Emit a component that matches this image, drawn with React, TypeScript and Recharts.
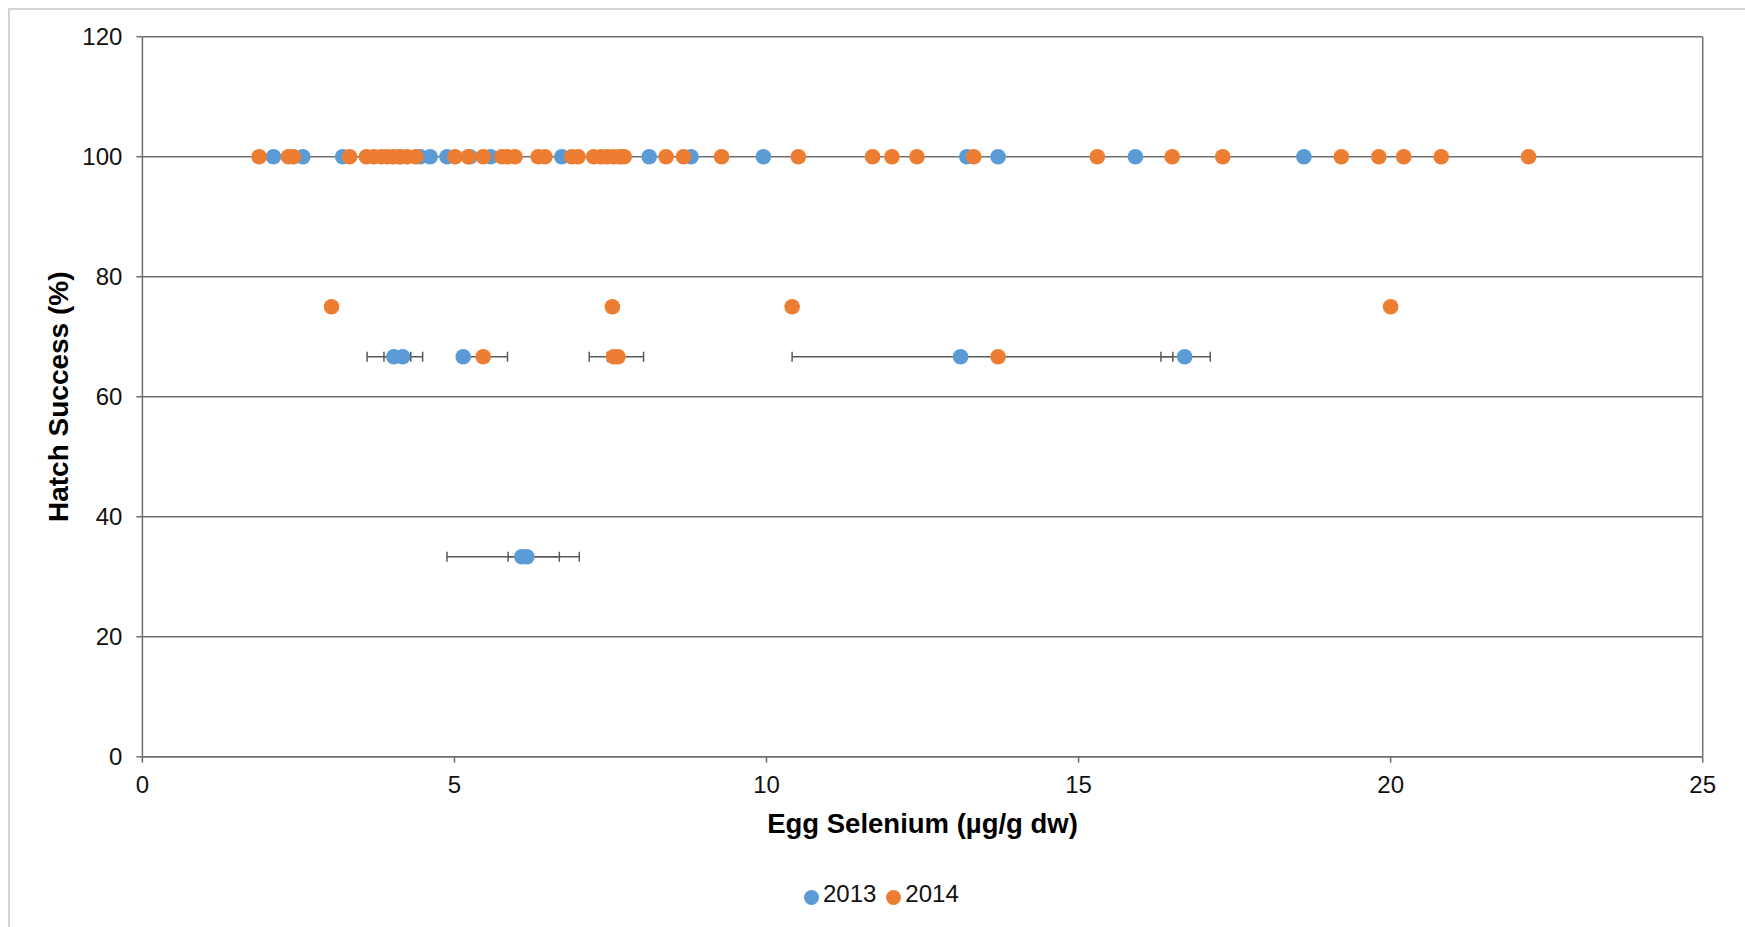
import React from 'react';
import {
  ScatterChart,
  Scatter,
  XAxis,
  YAxis,
  CartesianGrid,
  ErrorBar,
  Legend,
  ReferenceLine,
  Label,
} from 'recharts';

// Egg selenium (µg/g dw) per nest, grouped by hatch success row
const se2013At100 = [2.1, 2.57, 3.21, 4.13, 4.45, 4.61, 4.88, 5.25, 5.58, 6.72, 8.12, 8.79, 9.95, 13.21, 13.71, 15.91, 18.61];
const se2014At100 = [
  1.87, 2.34, 2.42, 3.32, 3.59, 3.71, 3.83, 3.92, 4.02, 4.12, 4.24, 4.38, 5.01, 5.22, 5.46, 5.76, 5.85, 5.97,
  6.34, 6.45, 6.88, 6.98, 7.23, 7.35, 7.45, 7.55, 7.65, 7.72, 8.39, 8.67, 9.28, 10.51, 11.7, 12.01, 12.41,
  13.32, 15.3, 16.5, 17.31, 19.21, 19.81, 20.21, 20.81, 22.21,
];
const se2014At75 = [3.03, 7.53, 10.41, 20.0];

const se2013At67 = [4.03, 4.17, 5.14, 13.11, 16.7];
const err2013At67: ([number, number] | null)[] = [[0.43, 0.46], [0.3, 0.13], null, null, [0.38, 0.41]];
const se2014At67 = [5.46, 7.55, 7.62, 13.71];
const err2014At67: ([number, number] | null)[] = [[0.39, 0.39], [0.39, 0.48], [0.17, 0.07], [3.3, 2.8]];

const se2013At33 = [6.08, 6.16];
const err2013At33: [number, number][] = [[1.2, 0.92], [0.3, 0.52]];

const xTicks = [0, 5, 10, 15, 20, 25];
const yTicks = [0, 20, 40, 60, 80, 100, 120];

type Pt = { x: number; y: number; err?: [number, number] | null };

const data2013: Pt[] = [
  ...se2013At100.map((x) => ({ x, y: 100 })),
  ...se2013At67.map((x, i) => ({ x, y: 66.67, err: err2013At67[i] })),
  ...se2013At33.map((x, i) => ({ x, y: 33.33, err: err2013At33[i] })),
];
const data2014: Pt[] = [
  ...se2014At100.map((x) => ({ x, y: 100 })),
  ...se2014At75.map((x) => ({ x, y: 75 })),
  ...se2014At67.map((x, i) => ({ x, y: 66.67, err: err2014At67[i] })),
];

const BLUE = '#5B9BD5';
const ORANGE = '#ED7D31';
const GRID = '#6f6f6f';
const FONT = '"Liberation Sans", Arial, sans-serif';

const dot = (color: string) => (props: any) => (
  <circle cx={props.cx} cy={props.cy} r={7.8} fill={color} />
);

export default function App() {
  return (
    <div style={{ position: 'absolute', left: 8, top: 8, width: 1737, height: 919, overflow: 'hidden' }}>
      <div style={{ width: 1800, height: 960, border: '2px solid #d4d4d4', fontFamily: FONT }}>
        <ScatterChart width={1736} height={910} margin={{ top: 26.7, right: 43.3, left: 0, bottom: 6 }}>
          <CartesianGrid horizontal vertical={false} stroke={GRID} strokeWidth={1.5} />
          <ReferenceLine x={25} stroke={GRID} strokeWidth={1.5} />
          <XAxis
            type="number"
            dataKey="x"
            domain={[0, 25]}
            ticks={xTicks}
            allowDataOverflow
            height={117.2}
            stroke={GRID}
            strokeWidth={1.5}
            tickSize={6}
            tickMargin={13}
            tick={{ fill: '#111', fontSize: 24, fontFamily: FONT }}
          >
            <Label
              content={(p: any) => {
                const vb = p.viewBox;
                return (
                  <text
                    x={vb.x + vb.width / 2}
                    y={vb.y + 76}
                    textAnchor="middle"
                    fontFamily={FONT}
                    fontWeight="bold"
                    fontSize={27.5}
                    fill="#000"
                  >
                    Egg Selenium (µg/g dw)
                  </text>
                );
              }}
            />
          </XAxis>
          <YAxis
            type="number"
            dataKey="y"
            domain={[0, 120]}
            ticks={yTicks}
            width={132.4}
            stroke={GRID}
            strokeWidth={1.5}
            tickSize={6}
            tickMargin={14}
            tick={{ fill: '#111', fontSize: 24, fontFamily: FONT }}
          >
            <Label
              content={(p: any) => {
                const vb = p.viewBox;
                const cy = vb.y + vb.height / 2;
                return (
                  <text
                    x={48}
                    y={cy}
                    transform={`rotate(-90, 48, ${cy})`}
                    textAnchor="middle"
                    dominantBaseline="central"
                    fontFamily={FONT}
                    fontWeight="bold"
                    fontSize={28}
                    fill="#000"
                  >
                    Hatch Success (%)
                  </text>
                );
              }}
            />
          </YAxis>
          <Legend
            verticalAlign="bottom"
            align="center"
            height={40}
            iconType="circle"
            iconSize={15}
            wrapperStyle={{ left: 30, bottom: 0 }}
            formatter={(value: string) => (
              <span style={{ color: '#111', fontSize: 24, fontFamily: FONT }}>{value}</span>
            )}
          />
          <Scatter name="2013" data={data2013} fill={BLUE} shape={dot(BLUE)} isAnimationActive={false}>
            <ErrorBar dataKey="err" direction="x" width={5} stroke="#595959" strokeWidth={1.5} />
          </Scatter>
          <Scatter name="2014" data={data2014} fill={ORANGE} shape={dot(ORANGE)} isAnimationActive={false}>
            <ErrorBar dataKey="err" direction="x" width={5} stroke="#595959" strokeWidth={1.5} />
          </Scatter>
        </ScatterChart>
      </div>
    </div>
  );
}
